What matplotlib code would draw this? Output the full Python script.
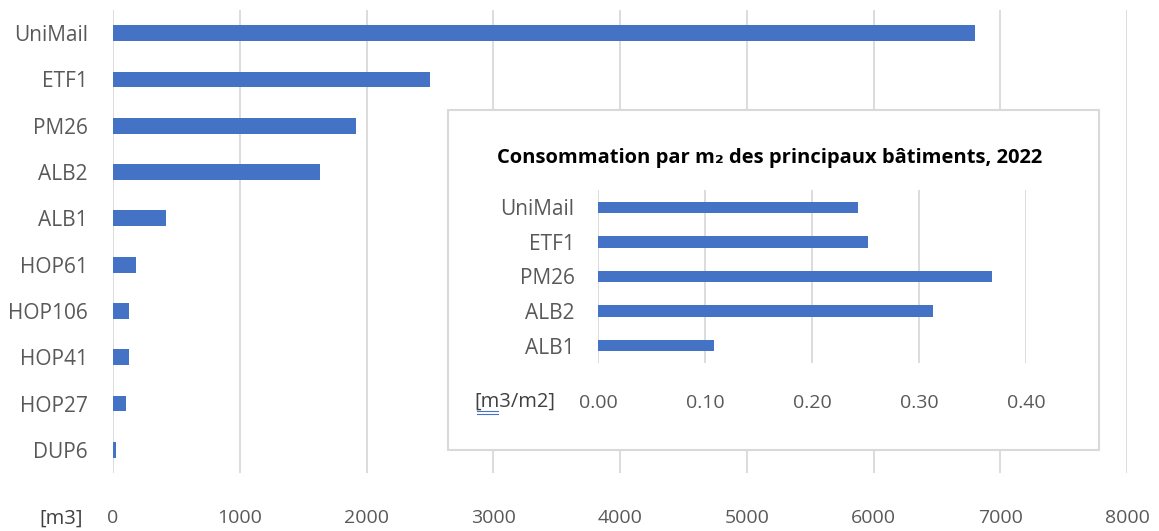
import matplotlib
matplotlib.use("Agg")
import matplotlib.pyplot as plt
from matplotlib.patches import Rectangle
from matplotlib.lines import Line2D

# Total consumption per building
buildings = ["UniMail", "ETF1", "PM26", "ALB2", "ALB1",
             "HOP61", "HOP106", "HOP41", "HOP27", "DUP6"]
consumption_m3 = [6800, 2500, 1920, 1635, 415, 185, 125, 125, 100, 20]
main_ticks = [0, 1000, 2000, 3000, 4000, 5000, 6000, 7000, 8000]

# Consumption per square metre, main buildings
inset_buildings = ["UniMail", "ETF1", "PM26", "ALB2", "ALB1"]
consumption_per_m2 = [0.243, 0.252, 0.368, 0.313, 0.108]
inset_ticks = [0.0, 0.1, 0.2, 0.3, 0.4]
inset_title = "Consommation par m\u2082 des principaux bâtiments, 2022"

BAR = "#4472C4"
GRID = "#D9D9D9"
TXT = "#595959"
plt.rcParams["font.family"] = ["Open Sans", "DejaVu Sans"]

W, H = 1159, 531
fig = plt.figure(figsize=(W / 100, H / 100), dpi=100)


def fx(px):
    return px / W


def fy(py):
    return 1 - py / H


# ---- main chart ----
ax = fig.add_axes([fx(113), fy(473), fx(1127) - fx(113), fy(10) - fy(473)])
ypos = list(range(len(buildings)))
ax.barh(ypos, consumption_m3, height=0.34, color=BAR, zorder=3)
ax.set_xlim(0, 8000)
ax.set_ylim(len(buildings) - 0.5, -0.5)
ax.set_xticks(main_ticks)
ax.set_xticklabels([str(t) for t in main_ticks])
ax.set_yticks(ypos)
ax.set_yticklabels(buildings)
ax.grid(axis="x", color=GRID, linewidth=1.3, zorder=0)
ax.tick_params(axis="x", length=0, pad=26, labelsize=14, colors=TXT)
ax.tick_params(axis="y", length=0, pad=18, labelsize=15, colors=TXT)
for s in ax.spines.values():
    s.set_visible(False)
fig.text(fx(61), fy(519), "[m3]", ha="center", va="center",
         fontsize=14.5, color="#404040")

# ---- inset panel ----
box = Rectangle((fx(448), fy(450)), fx(1099) - fx(448), fy(110) - fy(450),
                transform=fig.transFigure, facecolor="white",
                edgecolor=GRID, linewidth=1.5, zorder=5)
fig.patches.append(box)

fig.text(fx(770), fy(158), inset_title, ha="center", va="center",
         fontsize=14.5, fontweight="bold", color="black", zorder=6)

ax2 = fig.add_axes([fx(598), fy(363), fx(1026) - fx(598), fy(190) - fy(363)],
                   zorder=6)
ax2.patch.set_alpha(0)
ypos2 = list(range(len(inset_buildings)))
ax2.barh(ypos2, consumption_per_m2, height=0.33, color=BAR, zorder=3)
ax2.set_xlim(0, 0.4)
ax2.set_ylim(len(inset_buildings) - 0.5, -0.5)
ax2.set_xticks(inset_ticks)
ax2.set_xticklabels([f"{t:.2f}" for t in inset_ticks])
ax2.set_yticks(ypos2)
ax2.set_yticklabels(inset_buildings)
ax2.grid(axis="x", color=GRID, linewidth=1.3, zorder=0)
ax2.tick_params(axis="x", length=0, pad=22, labelsize=14, colors=TXT)
ax2.tick_params(axis="y", length=0, pad=17, labelsize=15, colors=TXT)
for s in ax2.spines.values():
    s.set_visible(False)
fig.text(fx(515), fy(402), "[m3/m2]", ha="center", va="center",
         fontsize=14.5, color="#404040", zorder=7)
# spell-check style double underline below "m3"
for dy in (411, 413.5):
    fig.add_artist(Line2D([fx(477), fx(498)], [fy(dy), fy(dy)],
                          transform=fig.transFigure, color="#4472C4",
                          linewidth=0.8, zorder=8))

fig.savefig("out.png", dpi=100)
